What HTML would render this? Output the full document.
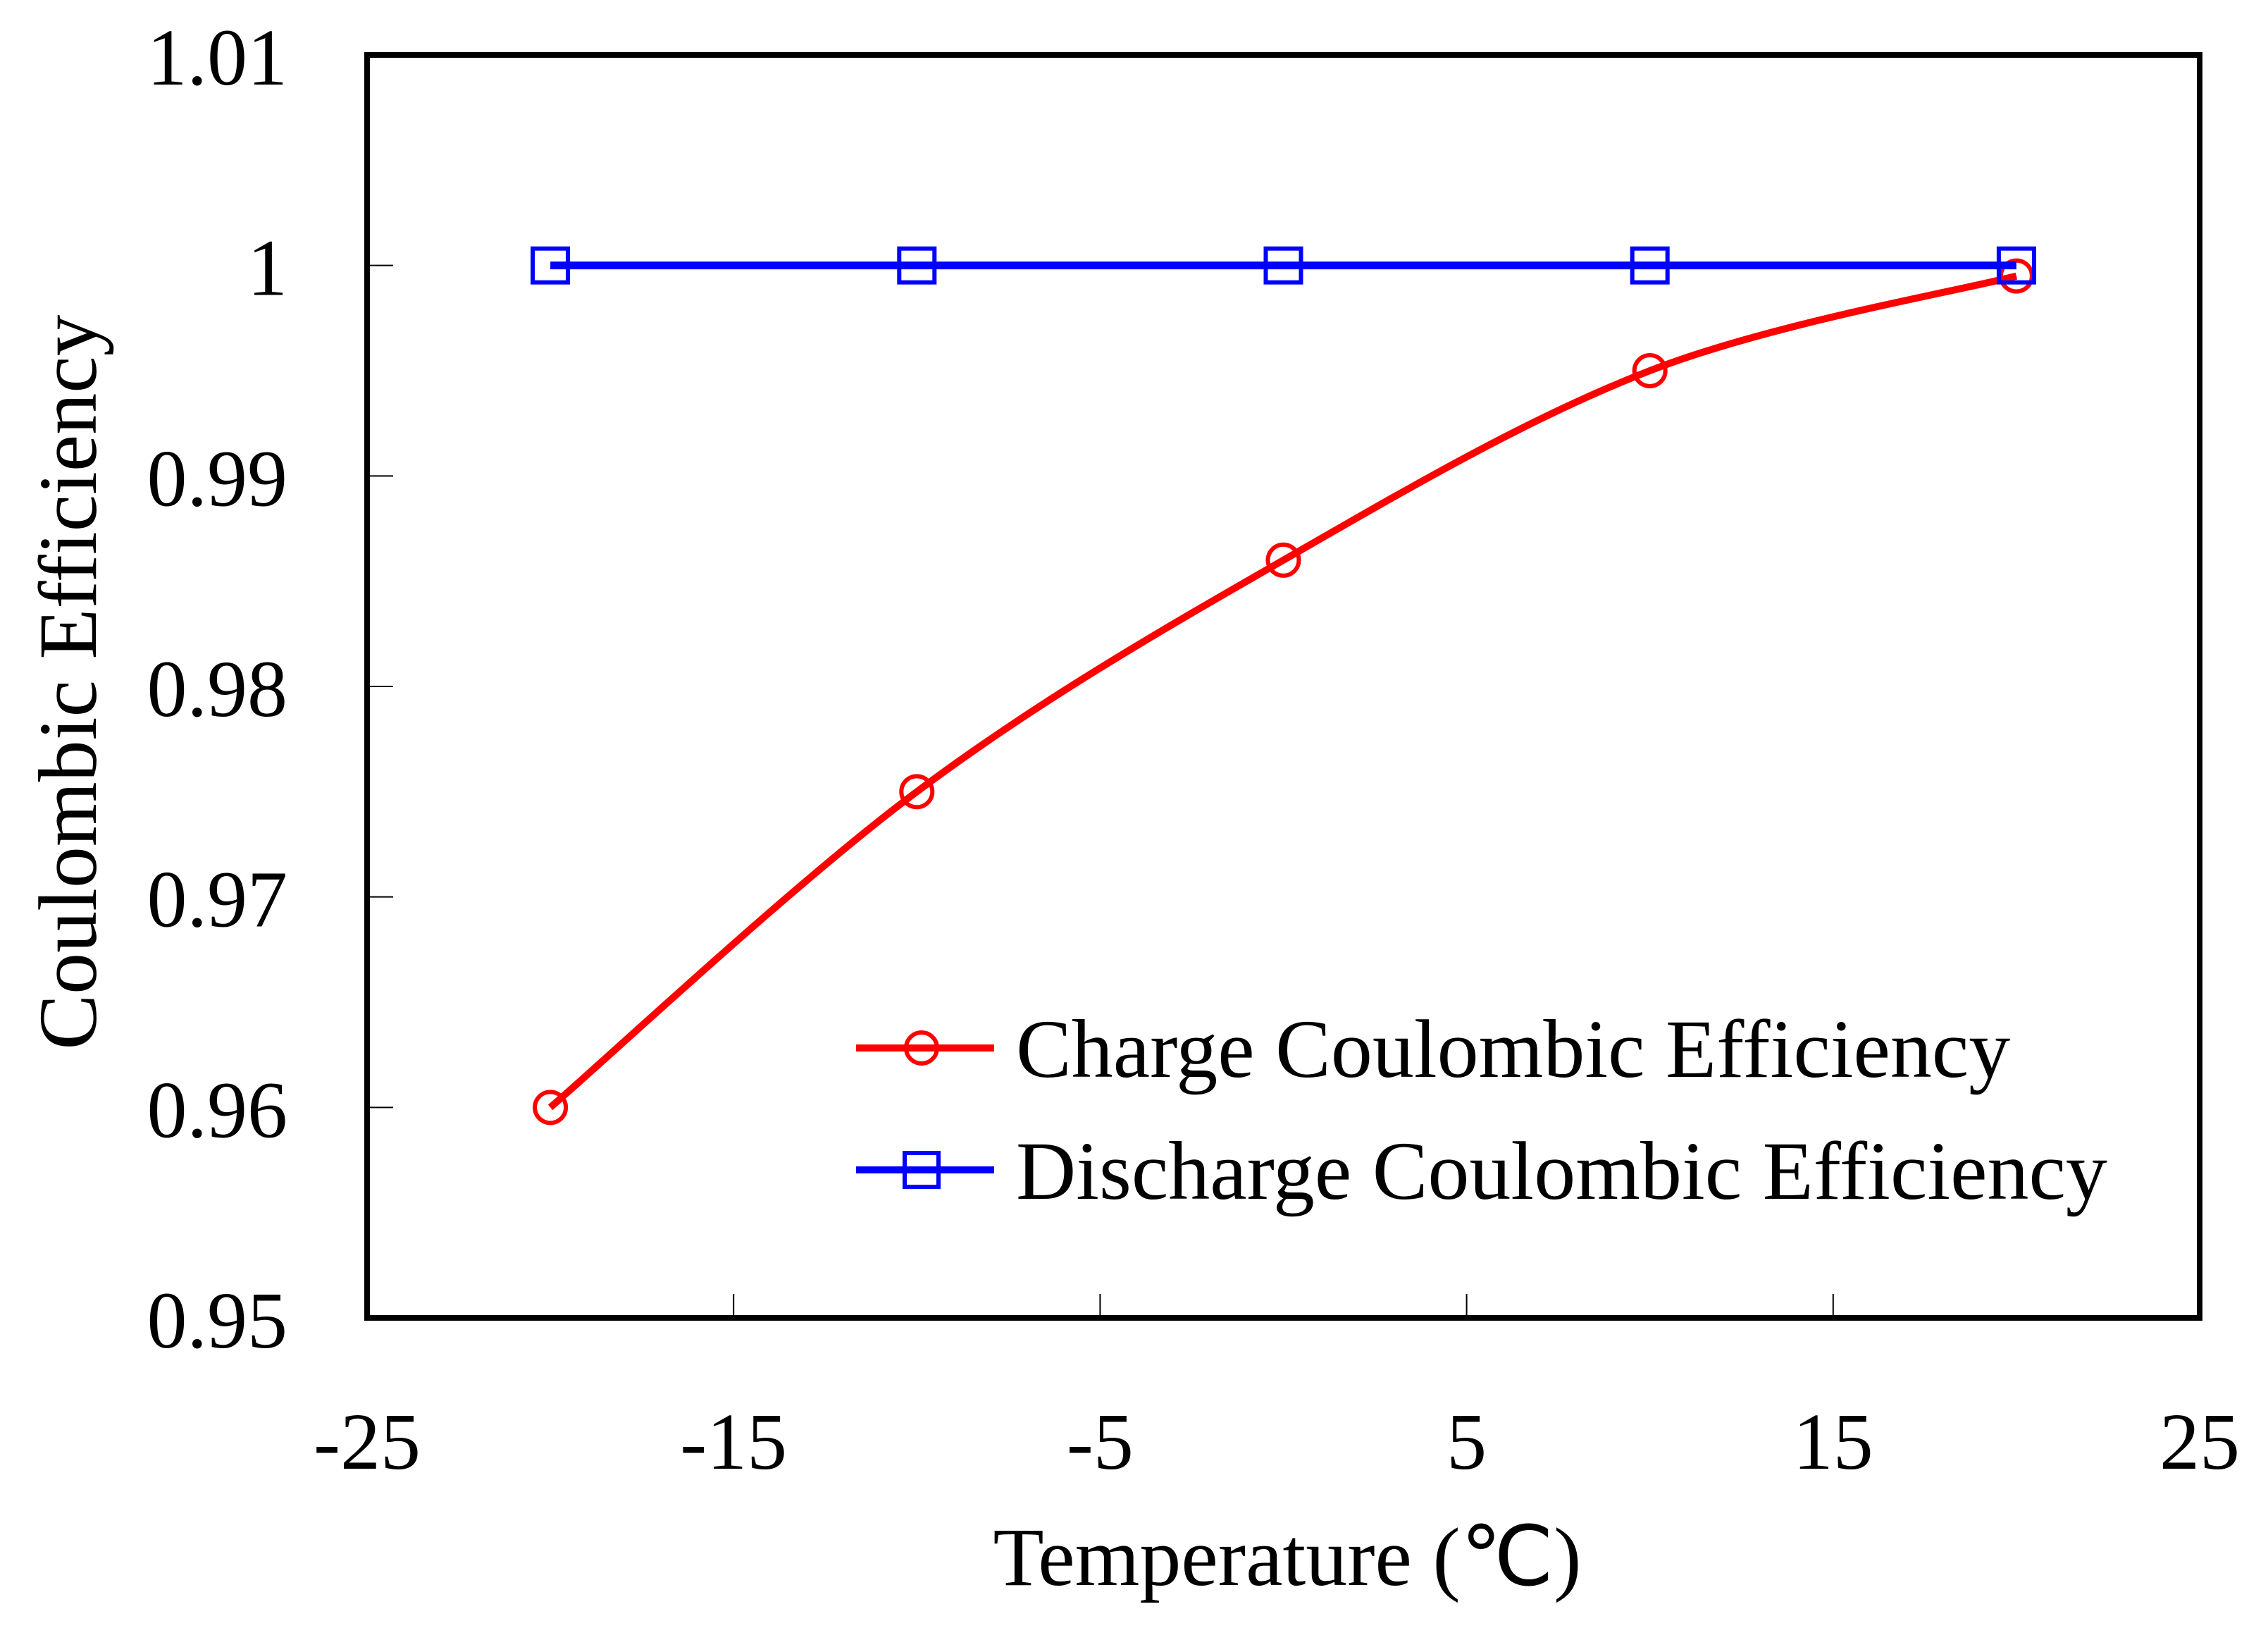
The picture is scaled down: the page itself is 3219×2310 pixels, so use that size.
<!DOCTYPE html>
<html><head><meta charset="utf-8"><style>
html,body{margin:0;padding:0;background:#fff}
svg{display:block}
text{font-family:"Liberation Serif",serif;fill:#000}
</style></head><body>
<svg id="chart" width="3219" height="2310" viewBox="0 0 3219 2310" xmlns="http://www.w3.org/2000/svg">
<rect x="0" y="0" width="3219" height="2310" fill="#fff"/>
<g id="ticks"></g>
<g id="series"></g>
<rect x="521" y="78" width="2601" height="1792" fill="none" stroke="#000" stroke-width="8"/>
<text transform="translate(136,968) rotate(-90)" text-anchor="middle" font-size="118">Coulombic Efficiency</text>
<text x="1827" y="2249" text-anchor="middle" font-size="118">Temperature (℃)</text>
<g>
  <line x1="1215" y1="1487" x2="1411" y2="1487" stroke="#f00" stroke-width="10"/>
  <circle cx="1308" cy="1487" r="22" fill="none" stroke="#f00" stroke-width="6"/>
  <text x="1442" y="1528" font-size="118">Charge Coulombic Efficiency</text>
  <line x1="1215" y1="1660" x2="1411" y2="1660" stroke="#00f" stroke-width="10"/>
  <rect x="1284" y="1636" width="48" height="48" fill="none" stroke="#00f" stroke-width="6"/>
  <text x="1442" y="1701" font-size="118">Discharge Coulombic Efficiency</text>
</g>
</svg>
<script>
const temps = [-20, -10, 0, 10, 20];
const chargeEff = [0.960, 0.975, 0.986, 0.995, 0.9995];
const dischargeEff = [1, 1, 1, 1, 1];
const xTicks = [-25, -15, -5, 5, 15, 25];
const yTicks = [0.95, 0.96, 0.97, 0.98, 0.99, 1, 1.01];
const yTickLabels = ["0.95", "0.96", "0.97", "0.98", "0.99", "1", "1.01"];

const NS = "http://www.w3.org/2000/svg";
const L = 521, R = 3122, T = 78, B = 1870;
const xs = v => L + (v + 25) / 50 * (R - L);
const ys = v => B - (v - 0.95) / 0.06 * (B - T);
function mk(tag, attrs, parent) {
  const e = document.createElementNS(NS, tag);
  for (const k in attrs) e.setAttribute(k, attrs[k]);
  parent.appendChild(e);
  return e;
}
const tg = document.getElementById("ticks");
xTicks.forEach(v => {
  const x = xs(v);
  if (v > -25 && v < 25) {
    const t = mk("line", {x1: x, y1: B, x2: x, y2: B - 34, stroke: "#000", "stroke-width": 2}, tg);
    
    
  }
  const lb = mk("text", {x: x, y: 2084, "text-anchor": "middle", "font-size": 114}, tg);
  lb.textContent = String(v);
  
  
});
yTicks.forEach((v, i) => {
  const y = ys(v);
  if (i > 0 && i < yTicks.length - 1) {
    const t = mk("line", {x1: L, y1: y, x2: L + 37, y2: y, stroke: "#000", "stroke-width": 2}, tg);
    
    
  }
  const lb = mk("text", {x: 408, y: y + 42, "text-anchor": "end", "font-size": 114}, tg);
  lb.textContent = yTickLabels[i];
  
  
});
function smoothPath(px, py) {
  let d = "M" + px[0] + "," + py[0];
  for (let i = 0; i < px.length - 1; i++) {
    const x0 = px[Math.max(i - 1, 0)], y0 = py[Math.max(i - 1, 0)];
    const x1 = px[i], y1 = py[i], x2 = px[i + 1], y2 = py[i + 1];
    const x3 = px[Math.min(i + 2, px.length - 1)], y3 = py[Math.min(i + 2, px.length - 1)];
    const c1x = x1 + (x2 - x0) / 6, c1y = y1 + (y2 - y0) / 6;
    const c2x = x2 - (x3 - x1) / 6, c2y = y2 - (y3 - y1) / 6;
    d += " C" + c1x + "," + c1y + " " + c2x + "," + c2y + " " + x2 + "," + y2;
  }
  return d;
}
const sg = document.getElementById("series");
const px = temps.map(xs);
const cl = mk("path", {d: smoothPath(px, chargeEff.map(ys)), fill: "none", stroke: "#f00", "stroke-width": 10, "stroke-linejoin": "round"}, sg);


temps.forEach((t, i) => {
  const c = mk("circle", {cx: xs(t), cy: ys(chargeEff[i]), r: 22, fill: "none", stroke: "#f00", "stroke-width": 6}, sg);
  
  
});
const dl = mk("path", {d: smoothPath(px, dischargeEff.map(ys)), fill: "none", stroke: "#00f", "stroke-width": 11}, sg);


temps.forEach((t, i) => {
  const s = mk("rect", {x: xs(t) - 25, y: ys(dischargeEff[i]) - 24, width: 50, height: 48, fill: "none", stroke: "#00f", "stroke-width": 6}, sg);
  
  
});
</script>
</body></html>
